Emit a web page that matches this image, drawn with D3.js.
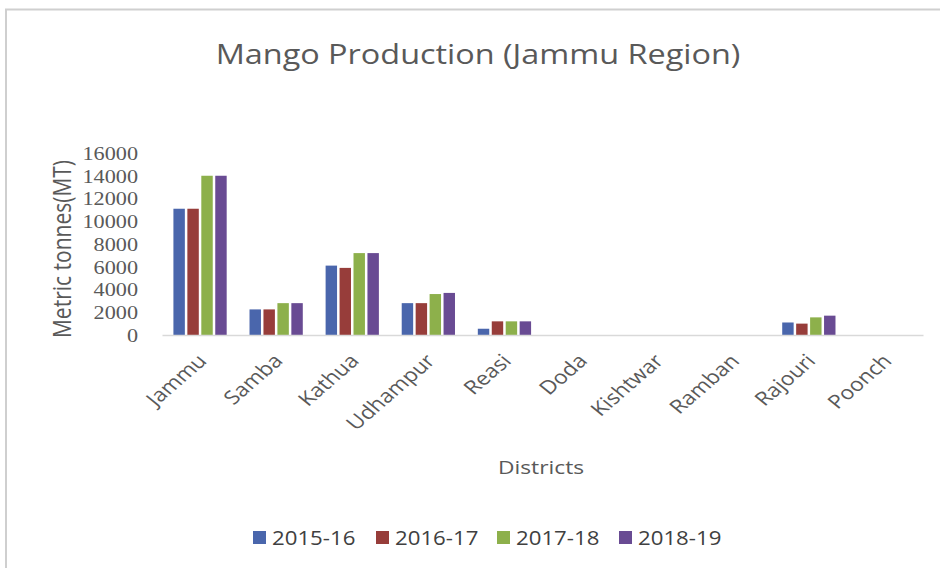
<!DOCTYPE html>
<html>
<head>
<meta charset="utf-8">
<script src="https://cdn.jsdelivr.net/npm/d3@7"></script>
<style>
  body { margin: 0; background: #fff; }
</style>
</head>
<body>
<div id="viz"></div>
<script>
const width = 940;
const height = 568;
const margin = {top: 153, right: 17, bottom: 233, left: 162};
const SX = 1.2; // the picture is a bit wider than tall

// Data
const districts = ['Jammu', 'Samba', 'Kathua', 'Udhampur', 'Reasi', 'Doda', 'Kishtwar', 'Ramban', 'Rajouri', 'Poonch'];
const years = ['2015-16', '2016-17', '2017-18', '2018-19'];
const prod2015 = [11100, 2250, 6100, 2800, 550, 0, 0, 0, 1100, 0];
const prod2016 = [11100, 2250, 5900, 2800, 1200, 0, 0, 0, 1000, 0];
const prod2017 = [14000, 2800, 7200, 3600, 1200, 0, 0, 0, 1550, 0];
const prod2018 = [14000, 2800, 7200, 3700, 1200, 0, 0, 0, 1700, 0];
const yTicks = [0, 2000, 4000, 6000, 8000, 10000, 12000, 14000, 16000];
const colors = ['#4a66ac', '#973d3a', '#8db04b', '#694b93'];

const series = [prod2015, prod2016, prod2017, prod2018];
const rows = districts.map((d, i) => ({district: d, values: years.map((y, j) => ({year: y, value: series[j][i]}))}));

const svg = d3.select('#viz')
  .append('svg')
    .attr('width', width)
    .attr('height', height)
    .style('font-family', '"Open Sans", sans-serif');

// Frame (only the top and left edges show)
svg.append('path')
  .attr('d', `M6,${height} V9.5 H${width}`)
  .attr('fill', 'none')
  .attr('stroke', '#cfcfcf')
  .attr('stroke-width', 2);

// Scales
const x0 = d3.scaleBand()
  .domain(districts)
  .range([margin.left, width - margin.right])
  .paddingInner(0.3)
  .paddingOuter(0.15);
const x1 = d3.scaleBand()
  .domain(years)
  .range([0, x0.bandwidth()])
  .paddingInner(0.18);
const yScale = d3.scaleLinear()
  .domain([0, 16000])
  .range([height - margin.bottom, margin.top]);
const color = d3.scaleOrdinal(years, colors);

// Title
svg.append('text')
  .attr('transform', `translate(478,64) scale(${SX},1)`)
  .attr('text-anchor', 'middle')
  .attr('fill', '#595959')
  .style('font-size', '27px')
  .text('Mango Production (Jammu Region)');

// y axis
const yAxis = d3.axisLeft(yScale)
  .tickValues(yTicks)
  .tickSize(0)
  .tickPadding(0)
  .tickFormat(d3.format('d'));
const yAxisGroup = svg.append('g')
  .attr('transform', `translate(${margin.left - 24},0)`)
  .call(yAxis);
yAxisGroup.select('.domain').remove();
yAxisGroup.selectAll('text')
  .attr('x', 0)
  .attr('transform', `scale(${SX * 0.95},1)`)
  .attr('fill', '#595959')
  .style('font-family', '"Liberation Serif", serif')
  .style('font-size', '19.5px');

svg.append('text')
  .attr('transform', `translate(71,249) scale(${SX},1) rotate(-90)`)
  .attr('text-anchor', 'middle')
  .attr('fill', '#595959')
  .style('font-size', '21px')
  .text('Metric tonnes(MT)');

// Bars
svg.append('g')
    .attr('class', 'bars-group')
  .selectAll('g')
  .data(rows)
  .join('g')
    .attr('transform', d => `translate(${x0(d.district)},0)`)
  .selectAll('rect')
  .data(d => d.values)
  .join('rect')
    .attr('x', d => x1(d.year))
    .attr('y', d => yScale(d.value))
    .attr('width', x1.bandwidth())
    .attr('height', d => yScale(0) - yScale(d.value))
    .attr('fill', d => color(d.year));

// x axis
const xAxis = d3.axisBottom(x0).tickSize(0).tickSizeOuter(0).tickFormat('');
const xAxisGroup = svg.append('g')
  .attr('transform', `translate(0,${yScale(0)})`)
  .call(xAxis);
xAxisGroup.select('.domain')
  .attr('stroke', '#d9d9d9')
  .attr('stroke-width', 1.5);

svg.append('g')
  .selectAll('text')
  .data(districts)
  .join('text')
    .attr('transform', d => `translate(${x0(d) + x0.bandwidth() / 2 + 8},362) scale(${SX},1) rotate(-46)`)
    .attr('text-anchor', 'end')
    .attr('fill', '#595959')
    .style('font-size', '19px')
    .text(d => d);

svg.append('text')
  .attr('transform', `translate(541,474) scale(${SX},1)`)
  .attr('text-anchor', 'middle')
  .attr('fill', '#595959')
  .style('font-size', '19px')
  .text('Districts');

// Legend
const legendX = [253, 376, 497, 619];
const legend = svg.append('g')
  .selectAll('g')
  .data(years)
  .join('g')
    .attr('transform', (d, i) => `translate(${legendX[i]},531)`);
legend.append('rect')
  .attr('width', 13)
  .attr('height', 13)
  .attr('fill', d => color(d));
legend.append('text')
  .attr('transform', `translate(19,14) scale(${SX * 0.95},1)`)
  .attr('fill', '#404040')
  .style('font-size', '19.5px')
  .text(d => d);
</script>
</body>
</html>
